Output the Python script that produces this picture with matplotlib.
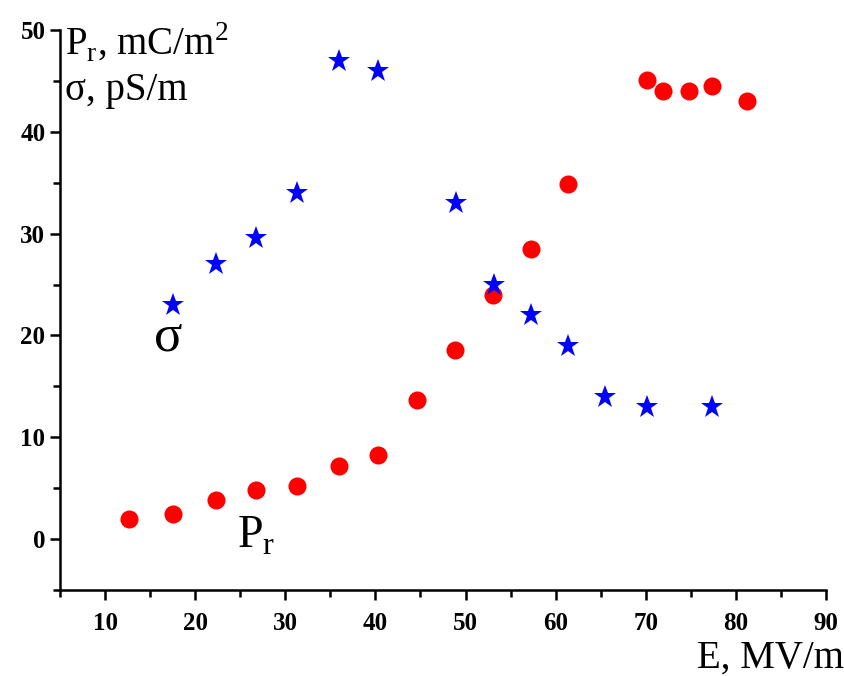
import numpy as np
import matplotlib
matplotlib.use("Agg")
import matplotlib.pyplot as plt
from matplotlib.ticker import MultipleLocator

# remnant polarisation Pr (mC/m^2) vs field E (MV/m)
e_pr = [12.7, 17.5, 22.3, 26.8, 31.3, 36.0, 40.3, 44.6, 48.8, 53.1, 57.3, 61.4, 70.1, 71.9, 74.8, 77.4, 81.2]
pr = [2.0, 2.5, 3.8, 4.8, 5.2, 7.2, 8.3, 13.7, 18.6, 24.0, 28.5, 34.9, 45.1, 44.0, 44.0, 44.5, 43.0]

# conductivity sigma (pS/m)
e_sig = [17.5, 22.3, 26.8, 31.3, 36.0, 40.3, 48.9, 53.2, 57.3, 61.4, 65.5, 70.1, 77.3]
sig = [23.0, 27.0, 29.6, 34.0, 47.0, 46.0, 33.0, 25.0, 22.0, 19.0, 14.0, 13.0, 13.0]

serif = "Liberation Serif"

fig = plt.figure(figsize=(8.44, 6.76), dpi=100)
ax = fig.add_axes([60/844, 86/676, 766/844, 560/676])

ax.plot(e_pr, pr, 'o', color='#ff0000', markersize=13, markeredgewidth=0)
ax.plot(e_sig, sig, '*', color='#0000ff', markersize=17, markeredgewidth=0)

ax.set_xlim(5, 90)
ax.set_ylim(-5, 50)
ax.xaxis.set_major_locator(MultipleLocator(10))
ax.xaxis.set_minor_locator(MultipleLocator(5))
ax.yaxis.set_major_locator(MultipleLocator(10))
ax.yaxis.set_minor_locator(MultipleLocator(5))

for s in ['top', 'right']:
    ax.spines[s].set_visible(False)
for s in ['left', 'bottom']:
    ax.spines[s].set_linewidth(1.8)

ax.tick_params(which='major', direction='out', length=7, width=1.8)
ax.tick_params(which='minor', direction='out', length=5, width=1.8)
ax.tick_params(axis='x', pad=9)
for lab in ax.get_xticklabels() + ax.get_yticklabels():
    lab.set_fontfamily(serif)
    lab.set_fontweight('bold')
    lab.set_fontsize(18)

ax.text(5.5, 47.6, r'P$_\mathregular{r}$, mC/m$^\mathregular{2}$', fontfamily=serif, fontsize=28,
        va='baseline', ha='left')
ax.text(5.5, 43.1, 'σ, pS/m', fontfamily=serif, fontsize=28, va='baseline', ha='left')
ax.text(17.0, 19.8, 'σ', fontfamily=serif, fontsize=38, va='center', ha='center')
ax.text(24.6, -0.8, r'P$_\mathregular{r}$', fontfamily=serif, fontsize=33, va='baseline', ha='left')

fig.text(1.0, 8/676, 'E, MV/m', fontfamily=serif, fontsize=28, ha='right', va='baseline')

fig.savefig('out.png', dpi=100)
